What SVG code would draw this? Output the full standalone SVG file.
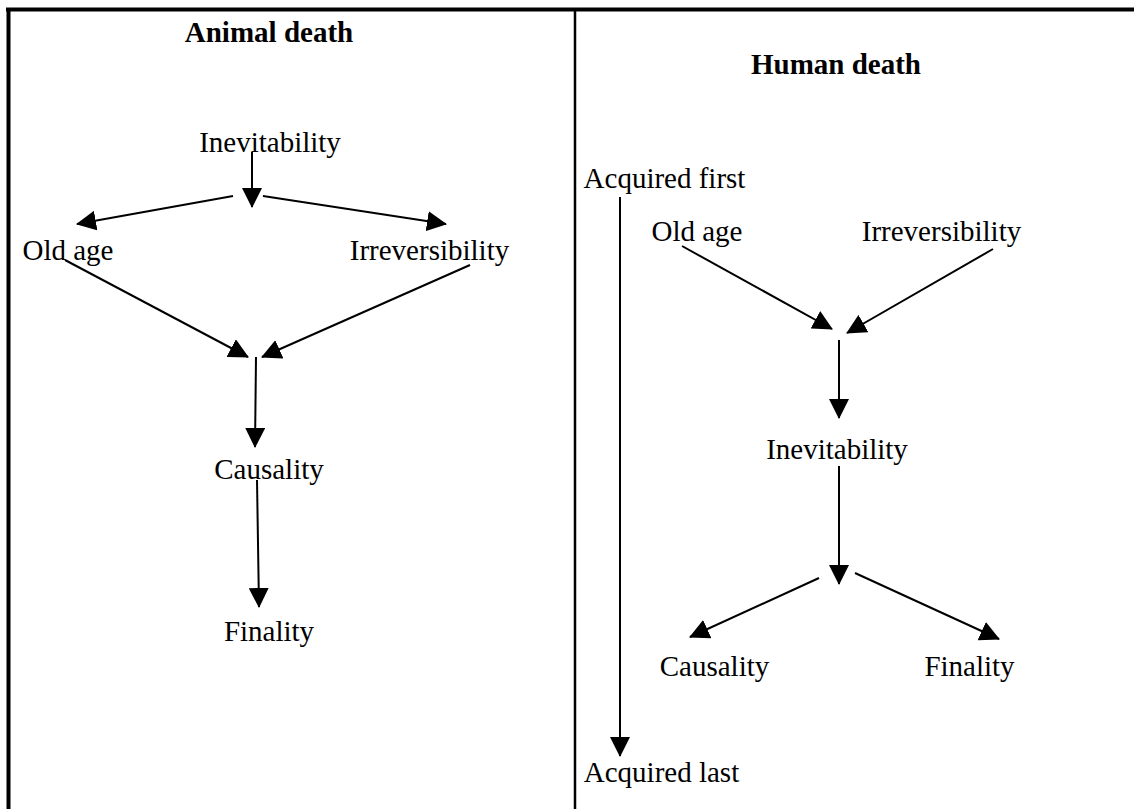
<svg xmlns="http://www.w3.org/2000/svg" width="1134" height="809" viewBox="0 0 1134 809">
<style>
text{font-family:"Liberation Serif","Times New Roman",serif;font-size:29px;fill:#000;text-anchor:middle}
.title{font-weight:bold}
.conn line{stroke:#000;stroke-width:2;marker-end:url(#ah)}
</style>
<defs>
<marker id="ah" markerUnits="userSpaceOnUse" markerWidth="20" markerHeight="20" viewBox="0 0 20 20" refX="19" refY="10" orient="auto">
<path d="M0,0 L20,10 L0,20 z" fill="#000"/>
</marker>
</defs>
<rect width="1134" height="809" fill="#fff"/>
<g id="frame" stroke="#000" fill="none">
<line x1="6" y1="9.5" x2="1134" y2="9.5" stroke-width="4"/>
<line x1="8.5" y1="8" x2="8.5" y2="809" stroke-width="4"/>
<line x1="575" y1="9" x2="575" y2="809" stroke-width="2.5"/>
</g>
<g id="animal-title"><text class="title" x="269" y="42">Animal death</text></g>
<g id="a-inevitability"><text x="270" y="152">Inevitability</text></g>
<g id="a-oldage"><text x="68" y="260">Old age</text></g>
<g id="a-irreversibility"><text x="429.5" y="260">Irreversibility</text></g>
<g id="a-causality"><text x="269" y="479">Causality</text></g>
<g id="a-finality"><text x="269" y="641">Finality</text></g>
<g id="human-title"><text class="title" x="836" y="74">Human death</text></g>
<g id="h-acquired-first"><text x="664.5" y="188">Acquired first</text></g>
<g id="h-oldage"><text x="697" y="241">Old age</text></g>
<g id="h-irreversibility"><text x="941.5" y="241">Irreversibility</text></g>
<g id="h-inevitability"><text x="837" y="459">Inevitability</text></g>
<g id="h-causality"><text x="714.5" y="676">Causality</text></g>
<g id="h-finality"><text x="969.5" y="676">Finality</text></g>
<g id="h-acquired-last"><text x="661.5" y="782">Acquired last</text></g>
<g id="connectors" class="conn">
<line x1="252" y1="152" x2="252" y2="207"/>
<line x1="233" y1="196" x2="77" y2="224"/>
<line x1="263" y1="196" x2="446" y2="224"/>
<line x1="65" y1="260" x2="248" y2="357"/>
<line x1="470" y1="265" x2="262" y2="357"/>
<line x1="256" y1="357" x2="255" y2="447"/>
<line x1="257" y1="480" x2="259" y2="607"/>
<line x1="620" y1="197" x2="620" y2="756"/>
<line x1="682" y1="246" x2="832" y2="329"/>
<line x1="993" y1="249" x2="847" y2="333"/>
<line x1="839" y1="340" x2="839" y2="418"/>
<line x1="839" y1="466" x2="839" y2="584"/>
<line x1="819" y1="578" x2="690" y2="637"/>
<line x1="855" y1="573" x2="999" y2="639"/>
</g>
</svg>
